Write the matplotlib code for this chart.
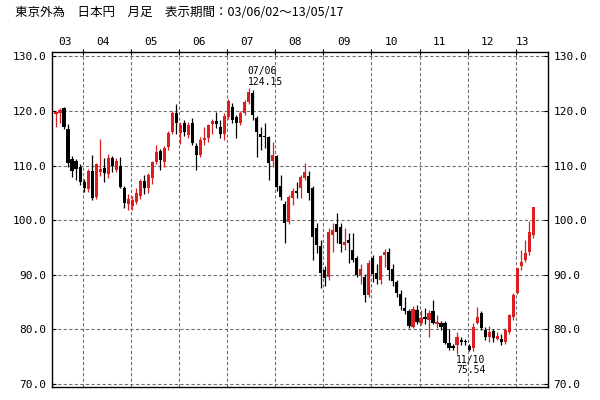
import numpy as np
import pandas as pd
import matplotlib
matplotlib.use("Agg")
import matplotlib.pyplot as plt

# monthly USD/JPY candles, 2003/06 - 2013/05
months = pd.period_range("2003-06", "2013-05", freq="M")

opens = [
    119.4, 119.6, 120.5, 116.7, 111.2, 110.8, 109.7,
    106.9, 105.7, 109.0, 104.2, 108.9, 109.5, 108.5, 111.4, 109.2, 110.0, 105.8, 102.9,
    102.6, 103.3, 104.5, 107.2, 105.9, 107.8, 110.6, 112.6, 110.7, 113.4, 116.2, 119.6,
    115.9, 117.8, 115.6, 117.8, 113.6, 111.9, 114.7, 115.0, 117.6, 118.1, 117.0, 115.7,
    118.8, 120.7, 118.8, 117.8, 119.6, 121.6, 123.2, 118.7, 115.7, 115.5, 115.2, 110.9,
    111.7, 106.3, 103.0, 99.6, 104.0, 105.3, 105.9, 107.7, 108.0, 105.9, 98.5, 95.2,
    90.9, 89.6, 97.3, 99.3, 98.7, 95.5, 96.4, 94.5, 93.1, 90.0, 89.6, 86.3,
    93.0, 90.3, 89.1, 93.6, 94.1, 91.1, 88.6, 86.5, 84.0, 83.3, 80.5, 83.6,
    81.2, 82.2, 81.7, 83.3, 81.0, 81.2, 81.2, 77.5, 76.9, 77.2, 78.0, 77.8,
    77.0, 76.5, 81.2, 83.0, 79.9, 78.6, 79.7, 78.3, 78.3, 77.7, 79.6, 82.3,
    86.7, 91.6, 92.7, 94.2, 97.3,
]
highs = [
    120.0, 120.5, 120.8, 117.6, 111.7, 111.2, 110.2,
    107.6, 109.4, 112.0, 110.5, 114.8, 111.4, 112.1, 111.8, 111.4, 111.5, 106.2, 104.7,
    104.5, 105.9, 107.5, 108.2, 108.7, 110.9, 113.7, 113.0, 113.6, 116.4, 120.0, 121.3,
    117.9, 118.3, 118.0, 118.7, 114.1, 115.3, 117.0, 117.6, 118.6, 119.8, 118.3, 119.6,
    122.2, 121.5, 119.3, 120.0, 122.0, 124.15, 123.8, 119.0, 117.0, 117.8, 115.4, 114.3,
    112.0, 108.3, 103.5, 104.6, 105.8, 106.9, 108.3, 110.4, 109.0, 106.3, 99.5, 96.4,
    91.6, 98.5, 99.5, 101.3, 99.5, 98.5, 97.6, 97.6, 93.4, 91.9, 90.2, 92.7,
    93.6, 92.0, 93.6, 94.7, 94.9, 92.0, 89.0, 87.2, 85.9, 83.8, 84.3, 84.5,
    83.6, 84.0, 83.5, 85.4, 82.6, 81.6, 81.6, 80.0, 77.3, 79.5, 78.6, 78.2,
    77.3, 81.2, 84.1, 83.3, 80.4, 80.6, 80.0, 79.6, 79.2, 80.3, 82.8, 86.6,
    91.3, 94.5, 96.3, 99.9, 102.5,
]
lows = [
    117.1, 117.8, 116.6, 109.8, 107.9, 107.4, 106.5,
    105.2, 105.2, 103.7, 103.8, 108.0, 107.0, 107.8, 108.8, 108.9, 105.8, 102.2, 101.9,
    101.8, 103.0, 103.8, 104.8, 104.9, 106.7, 110.2, 109.2, 109.7, 112.9, 115.8, 115.8,
    114.0, 115.5, 115.0, 113.7, 109.2, 111.5, 113.7, 114.4, 115.8, 116.8, 115.0, 114.6,
    118.5, 117.8, 115.1, 117.4, 119.3, 121.2, 118.3, 111.5, 112.8, 113.2, 107.3, 109.8,
    105.3, 103.6, 95.8, 99.3, 102.8, 104.0, 104.0, 107.3, 103.7, 92.7, 94.0, 87.6,
    87.9, 89.0, 94.2, 95.8, 94.2, 94.5, 92.2, 92.4, 89.6, 88.3, 85.0, 86.0,
    88.6, 88.4, 88.3, 91.5, 89.0, 88.0, 86.0, 83.6, 82.8, 80.2, 80.2, 80.9,
    80.8, 80.9, 78.6, 81.0, 80.3, 79.8, 77.3, 76.3, 76.2, 75.54, 77.2, 77.2,
    76.1, 76.1, 80.9, 79.9, 78.0, 77.7, 77.7, 78.0, 77.2, 77.4, 79.1, 81.8,
    86.5, 90.9, 92.4, 93.6, 96.8,
]
closes = [
    119.8, 120.2, 117.0, 110.5, 109.0, 109.3, 106.9,
    105.8, 109.0, 104.0, 110.3, 109.4, 108.6, 111.3, 109.9, 110.9, 106.0, 103.2, 103.8,
    103.6, 105.0, 107.1, 105.9, 108.3, 110.6, 112.4, 111.0, 113.3, 116.0, 119.6, 117.7,
    117.4, 116.2, 117.5, 114.2, 111.9, 114.6, 115.0, 117.4, 118.2, 117.6, 115.8, 119.0,
    121.8, 118.4, 117.7, 119.6, 121.6, 123.4, 119.2, 116.1, 115.2, 115.2, 110.4, 111.9,
    106.0, 104.2, 99.5, 104.2, 105.4, 105.0, 107.9, 108.8, 104.9, 96.9, 95.4, 90.3,
    89.4, 97.9, 98.2, 97.8, 95.7, 96.0, 95.8, 92.7, 90.0, 91.1, 86.3, 92.2,
    90.2, 89.2, 93.4, 94.1, 90.8, 88.8, 86.6, 84.2, 83.3, 80.6, 83.8, 81.3,
    82.1, 81.9, 83.0, 81.2, 81.4, 80.5, 77.5, 76.6, 76.5, 78.6, 77.7, 77.6,
    76.3, 80.5, 82.3, 80.3, 78.6, 79.5, 78.4, 78.7, 77.6, 79.9, 82.6, 86.3,
    91.2, 92.3, 94.0, 97.8, 102.4,
]

y_ticks = [70, 80, 90, 100, 110, 120, 130]
title = "東京外為　日本円　月足　表示期間：03/06/02～13/05/17"

o = np.array(opens)
h = np.array(highs)
l = np.array(lows)
c = np.array(closes)
x = np.arange(len(months))
up = c >= o
colors = np.where(up, "#dc1e1e", "#000000")

fig = plt.figure(figsize=(6, 4), dpi=100)
ax = fig.add_axes([52 / 600, 13 / 400, 495.7 / 600, 335 / 400])

# grid
grid_kw = dict(color="#707070", linewidth=0.8, linestyle=(0, (3, 2)), zorder=0)
for v in y_ticks:
    ax.axhline(v, **grid_kw)
years = months.year
jan_idx = [i for i in range(len(months)) if months[i].month == 1]
for j in jan_idx:
    ax.axvline(j - 0.35, **grid_kw)

# candles
ax.vlines(x, l, h, colors=colors, linewidth=0.9, zorder=2)
body = np.maximum(np.abs(c - o), 0.18)
ax.bar(x, body, bottom=np.minimum(o, c), width=0.78, color=colors,
       linewidth=0, zorder=3)

ax.set_xlim(-1.0, 122.6)
ax.set_ylim(69.45, 130.79)

mono = "DejaVu Sans Mono"
ax.set_yticks(y_ticks)
ax.set_yticklabels([f"{v:.1f}" for v in y_ticks], fontfamily=mono, fontsize=8)
ax.tick_params(axis="y", direction="in", length=3, width=0.8, pad=4,
               left=True, right=True, labelleft=True, labelright=True)
ax.set_xticks([j - 0.35 for j in jan_idx])
ax.tick_params(axis="x", direction="inout", length=5, width=0.8,
               bottom=False, labelbottom=False, top=True, labeltop=False)
for s in ax.spines.values():
    s.set_linewidth(1.0)

# year labels on top
for yr in sorted(set(years)):
    idx = [i for i in range(len(months)) if years[i] == yr]
    ax.text(np.mean(idx) - 0.8, 1.03, f"{yr % 100:02d}", transform=ax.get_xaxis_transform(),
            ha="center", va="center", fontfamily=mono, fontsize=8)

# high / low annotations
ih = int(np.argmax(h))
il = int(np.argmin(l))
ax.annotate(months[ih].strftime("%y/%m"), (x[ih], h[ih]), xytext=(-1, 17),
            textcoords="offset pixels", ha="left", va="center",
            fontfamily=mono, fontsize=7)
ax.annotate(f"{h[ih]:.2f}", (x[ih], h[ih]), xytext=(-1, 6),
            textcoords="offset pixels", ha="left", va="center",
            fontfamily=mono, fontsize=7)
ax.annotate(months[il].strftime("%y/%m"), (x[il], l[il]), xytext=(-1, -6),
            textcoords="offset pixels", ha="left", va="center",
            fontfamily=mono, fontsize=7)
ax.annotate(f"{l[il]:.2f}", (x[il], l[il]), xytext=(-1, -16),
            textcoords="offset pixels", ha="left", va="center",
            fontfamily=mono, fontsize=7)

fig.text(15 / 600, 1 - 13 / 400, title, ha="left", va="center", fontsize=9,
         family=["Noto Sans CJK JP", "DejaVu Sans"])

fig.savefig("out.png", dpi=100)
